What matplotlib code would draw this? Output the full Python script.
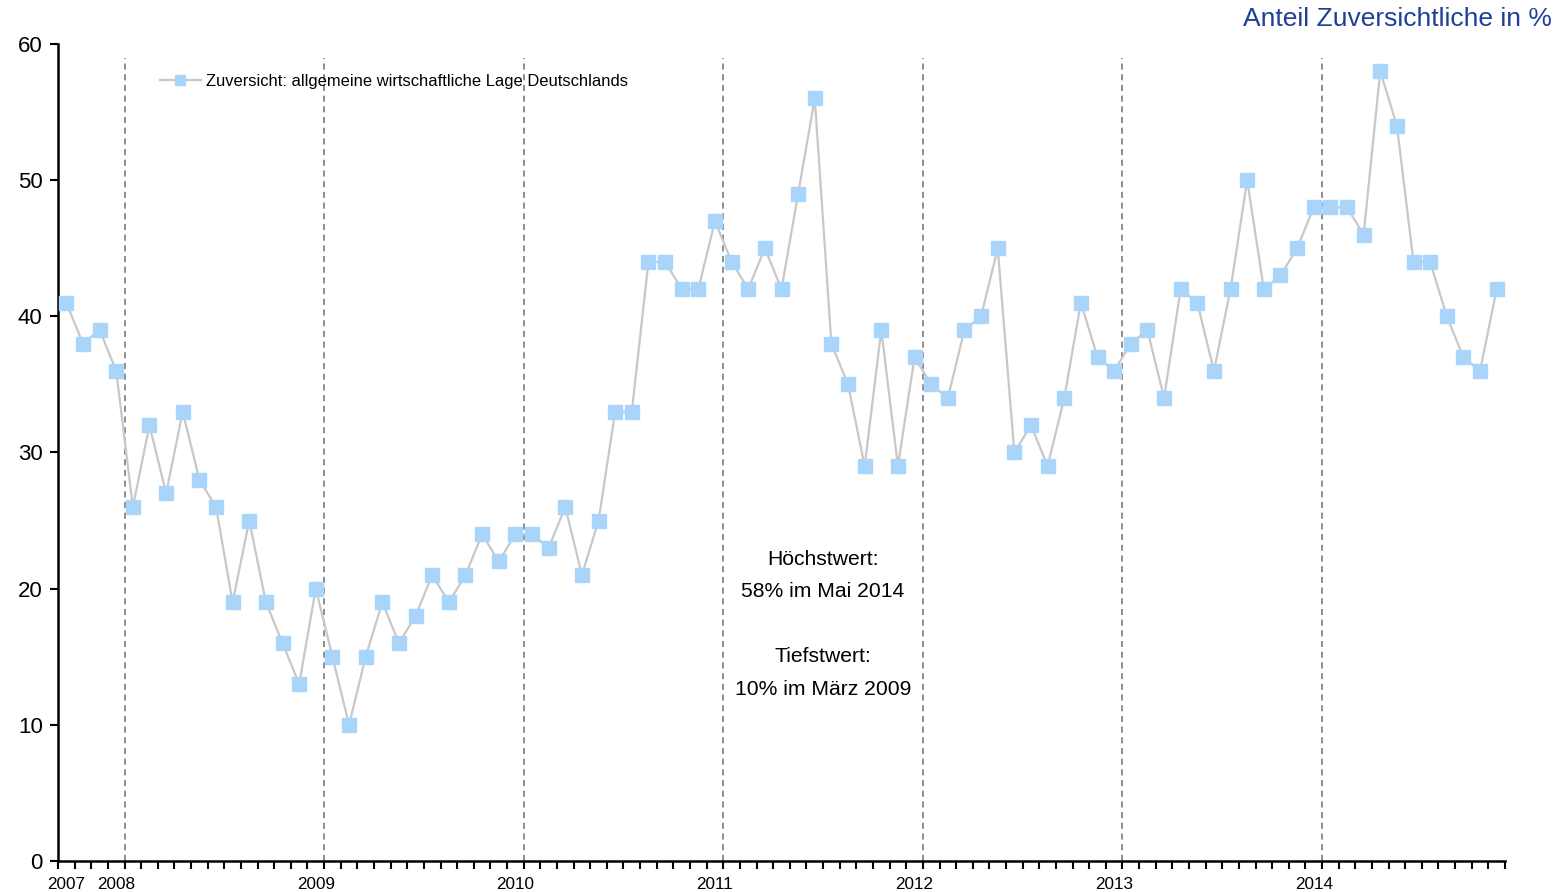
import matplotlib
matplotlib.use("Agg")
import matplotlib.pyplot as plt

# monthly survey values, Sep 2007 .. Nov 2014 (one value per category)
values = [41, 38, 39, 36,
          26, 32, 27, 33, 28, 26, 19, 25, 19, 16, 13, 20,
          15, 10, 15, 19, 16, 18, 21, 19, 21, 24, 22, 24,
          24, 23, 26, 21, 25, 33, 33, 44, 44, 42, 42, 47,
          44, 42, 45, 42, 49, 56, 38, 35, 29, 39, 29, 37,
          35, 34, 39, 40, 45, 30, 32, 29, 34, 41, 37, 36,
          38, 39, 34, 42, 41, 36, 42, 50, 42, 43, 45, 48,
          48, 48, 46, 58, 54, 44, 44, 40, 37, 36, 42]
years = ["2007", "2008", "2009", "2010", "2011", "2012", "2013", "2014"]
year_start = [0, 4, 16, 28, 40, 52, 64, 76]   # category index of January
label_pos = [0, 3, 15, 27, 39, 51, 63, 75]    # where the year text sits
series_name = "Zuversicht: allgemeine wirtschaftliche Lage Deutschlands"
note = "Höchstwert:\n58% im Mai 2014\n\nTiefstwert:\n10% im März 2009"

LINE = "#c8c8c8"
MARK = "#aad5fb"
NAVY = "#1f3f99"

plt.rcParams["font.family"] = ["Liberation Sans", "DejaVu Sans"]

n = len(values)
xs = [i + 0.5 for i in range(n)]

fig = plt.figure(figsize=(15.6, 8.92), dpi=100)
ax = fig.add_axes([58 / 1560, 31 / 892, (1505 - 58) / 1560, (861 - 44) / 892])

ax.plot(xs, values, color=LINE, lw=1.6, marker="s", ms=10.5,
        mfc=MARK, mec=MARK, label=series_name, zorder=3)

for b in year_start[1:]:
    ax.plot([b, b], [0, 59], color="#707070", lw=1.1, ls=(0, (4, 3)), zorder=1)

ax.set_xlim(0, n)
ax.set_ylim(0, 60)
ax.set_yticks(range(0, 61, 10))
ax.tick_params(axis="y", labelsize=16, length=6, width=1.5, pad=5)

ax.set_xticks(range(0, n + 1))
ax.set_xticklabels([])
ax.tick_params(axis="x", length=6, width=1.5)
for yr, p in zip(years, label_pos):
    ax.text(p + 0.5, -1.2, yr, ha="center", va="top", fontsize=12.3)

for s in ("top", "right"):
    ax.spines[s].set_visible(False)
for s in ("left", "bottom"):
    ax.spines[s].set_linewidth(1.8)

ax.text(46, 17.4, note, ha="center", va="center", fontsize=15.2, linespacing=1.9)

leg = ax.legend(loc="upper left", bbox_to_anchor=(0.06, 0.982), frameon=False,
                fontsize=11.9, handlelength=2.5, handletextpad=0.3,
                markerscale=0.75)

fig.text(0.995, 0.992, "Anteil Zuversichtliche in %", ha="right", va="top",
         fontsize=19, color=NAVY)

fig.savefig("out.png", dpi=100)
